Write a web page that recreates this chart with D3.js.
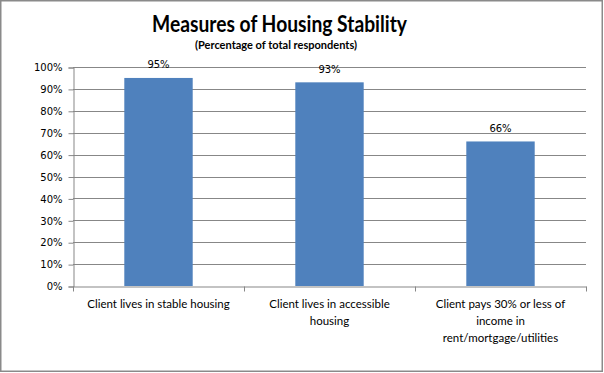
<!DOCTYPE html>
<html>
<head>
<meta charset="utf-8">
<script src="https://cdn.jsdelivr.net/npm/d3@7"></script>
<style>
  body { margin: 0; background: #fff; }
  svg { display: block; }
</style>
</head>
<body>
<div class="bar-chart"></div>
<script>
var width = 604, height = 373
var margin = { top: 67, right: 18, bottom: 87, left: 73 }

var categories = ["Client lives in stable housing", "Client lives in accessible\nhousing", "Client pays 30% or less of\nincome in\nrent/mortgage/utilities"]
var values = [95, 93, 66]
var yTicks = [0, 10, 20, 30, 40, 50, 60, 70, 80, 90, 100]

var barColor = "#4f81bd"
var gridColor = "#878787"

var svg = d3.select(".bar-chart")
  .append("svg")
  .attr("width", width)
  .attr("height", height)

// outer frame
svg.append("rect")
  .attr("x", 0.75).attr("y", 0.75)
  .attr("width", 601.5).attr("height", 370.5)
  .attr("fill", "#fff")
  .attr("stroke", "#8a8a8a")
  .attr("stroke-width", 1.5)

svg.append("text")
  .text("Measures of Housing Stability")
  .attr("x", 279.5).attr("y", 32)
  .attr("text-anchor", "middle")
  .attr("textLength", 255)
  .attr("lengthAdjust", "spacingAndGlyphs")
  .style("font-family", "Lato, 'Open Sans', sans-serif")
  .style("font-weight", "bold")
  .style("font-size", "22.5px")

svg.append("text")
  .text("(Percentage of total respondents)")
  .attr("x", 276).attr("y", 49)
  .attr("text-anchor", "middle")
  .attr("textLength", 162)
  .attr("lengthAdjust", "spacingAndGlyphs")
  .style("font-family", "Lato, 'Open Sans', sans-serif")
  .style("font-weight", "bold")
  .style("font-size", "11px")

var x = d3.scaleBand()
  .domain(categories)
  .range([margin.left, width - margin.right])
  .padding(0)

var y = d3.scaleLinear()
  .domain([0, 100])
  .range([height - margin.bottom, margin.top])

var main = svg.append("g")

// gridlines
main.append("g")
  .selectAll("line")
  .data(yTicks.filter(function(d){ return d > 0 }))
  .enter().append("line")
  .attr("x1", margin.left).attr("x2", width - margin.right)
  .attr("y1", function(d){ return Math.round(y(d)) + 0.5 })
  .attr("y2", function(d){ return Math.round(y(d)) + 0.5 })
  .attr("stroke", gridColor)

// y axis
var yAxis = d3.axisLeft(y)
  .tickValues(yTicks)
  .tickSize(5)
  .tickPadding(6)
  .tickFormat(function(d){ return d + "%" })

var gy = main.append("g")
  .attr("transform", "translate(" + (margin.left + 0.5) + ",0.5)")
  .call(yAxis)
gy.select(".domain").attr("stroke", gridColor)
gy.selectAll(".tick line").attr("stroke", gridColor)
gy.selectAll(".tick text")
  .style("font-family", "'DejaVu Sans', Verdana, sans-serif")
  .style("font-size", "10px")
  .attr("fill", "#000")

// bars
var barW = x.bandwidth() * 0.4
main.append("g")
  .selectAll("rect")
  .data(values)
  .enter().append("rect")
  .attr("x", function(d, i){ return x(categories[i]) + (x.bandwidth() - barW) / 2 })
  .attr("y", function(d){ return y(d) })
  .attr("width", barW)
  .attr("height", function(d){ return y(0) - y(d) })
  .attr("fill", barColor)

// value labels
main.append("g")
  .selectAll("text")
  .data(values)
  .enter().append("text")
  .text(function(d){ return d + "%" })
  .attr("x", function(d, i){ return x(categories[i]) + x.bandwidth() / 2 })
  .attr("y", function(d){ return y(d) - 9.5 })
  .attr("text-anchor", "middle")
  .style("font-family", "'DejaVu Sans', Verdana, sans-serif")
  .style("font-size", "10px")

// x axis
var xAxis = d3.axisBottom(x)
  .tickSize(0)
  .tickFormat("")
var gx = main.append("g")
  .attr("transform", "translate(0," + (Math.round(y(0)) + 0.5) + ")")
  .call(xAxis)
gx.select(".domain").attr("stroke", gridColor)

// category ticks on the band edges
var edges = categories.map(function(c){ return x(c) }).concat([width - margin.right])
gx.selectAll(".edge")
  .data(edges)
  .enter().append("line")
  .attr("class", "edge")
  .attr("x1", function(d){ return Math.round(d) + 0.5 })
  .attr("x2", function(d){ return Math.round(d) + 0.5 })
  .attr("y1", 0).attr("y2", 5)
  .attr("stroke", gridColor)

// category labels
categories.forEach(function(c){
  var t = gx.append("text")
    .attr("x", x(c) + x.bandwidth() / 2)
    .attr("y", 21)
    .attr("text-anchor", "middle")
    .attr("fill", "#000")
    .style("font-family", "Lato, 'Open Sans', sans-serif")
    .style("font-size", "11.5px")
  c.split("\n").forEach(function(line, i){
    t.append("tspan")
      .attr("x", x(c) + x.bandwidth() / 2)
      .attr("dy", i == 0 ? 0 : 17)
      .text(line)
  })
})
</script>
</body>
</html>
